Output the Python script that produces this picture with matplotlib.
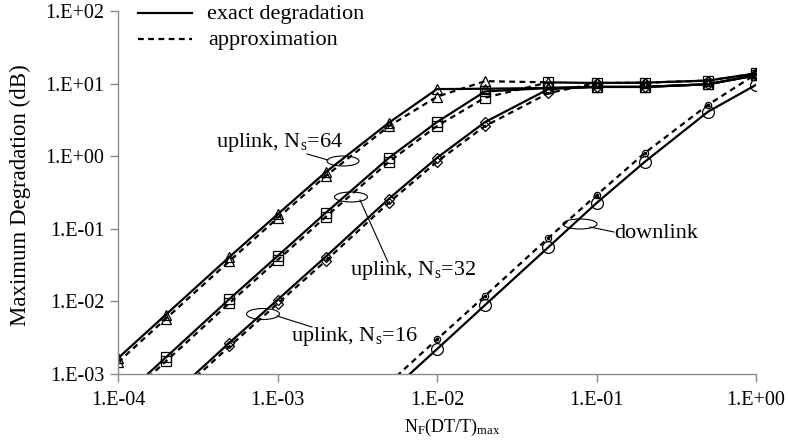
import numpy as np
import matplotlib
matplotlib.use('Agg')
import matplotlib.pyplot as plt
from matplotlib.patches import Ellipse
from matplotlib.lines import Line2D
from matplotlib.ticker import FixedLocator, FixedFormatter, NullLocator

plt.rcParams['font.family'] = ['Liberation Serif', 'DejaVu Serif']
plt.rcParams['mathtext.default'] = 'regular'

nan = np.nan
# ---- data ----
x = [1e-4, 2e-4, 5e-4, 1e-3, 2e-3, 5e-3, 1e-2, 2e-2, 5e-2, 1e-1, 2e-1, 5e-1, 1.0]

ul64_exact  = [1.65e-3, 6.6e-3, 0.041, 0.158, 0.60, 2.9, 8.4, 8.5, 8.7, 9.0, 9.0, 9.8, 13.0]
ul64_approx = [1.45e-3, 5.8e-3, 0.036, 0.140, 0.53, 2.6, 6.6, 10.8, 10.4, 10.2, 10.3, 11.0, 13.8]

ul32_exact  = [4.2e-4, 1.7e-3, 0.0108, 0.042, 0.165, 0.95, 2.95, 7.8, 8.7, 9.0, 9.0, 9.8, 13.0]
ul32_approx = [3.7e-4, 1.5e-3, 0.0095, 0.037, 0.145, 0.84, 2.6, 6.4, 10.4, 10.2, 10.3, 11.0, 13.8]

ul16_exact  = [nan, 4.3e-4, 2.7e-3, 0.0105, 0.041, 0.26, 0.95, 2.95, 8.4, 9.0, 9.0, 9.8, 13.0]
ul16_approx = [nan, 3.8e-4, 2.4e-3, 0.0093, 0.036, 0.23, 0.84, 2.6, 7.4, 10.2, 10.3, 11.0, 13.8]

dl_exact  = [nan, nan, nan, nan, nan, 5.5e-4, 2.2e-3, 8.9e-3, 0.056, 0.226, 0.83, 4.1, 9.6]
dl_approx = [nan, nan, nan, nan, nan, 7.5e-4, 3.0e-3, 0.0119, 0.075, 0.29, 1.1, 5.1, 13.5]

x_ticks = [1e-4, 1e-3, 1e-2, 1e-1, 1.0]
x_tick_labels = ['1.E-04', '1.E-03', '1.E-02', '1.E-01', '1.E+00']
y_ticks = [1e-3, 1e-2, 1e-1, 1.0, 10.0, 100.0]
y_tick_labels = ['1.E-03', '1.E-02', '1.E-01', '1.E+00', '1.E+01', '1.E+02']

legend_labels = ['exact degradation', 'approximation']
annot_labels = ['uplink, N$_s$=64', 'uplink, N$_s$=32', 'uplink, N$_s$=16', 'downlink']
x_label = 'N$_F$(DT/T)$_{max}$'
y_label = 'Maximum Degradation (dB)'

# ---- figure ----
W, H = 788, 447
fig = plt.figure(figsize=(W / 100, H / 100), dpi=100)
ax = fig.add_axes([118 / W, 1 - 374 / H, 638 / W, 363 / H])

DASH = (0, (2.6, 2.0))
LW = 1.6

series = [
    (ul64_exact, ul64_approx, '^', 7.5, 7.0),
    (ul32_exact, ul32_approx, 's', 7.0, 6.5),
    (ul16_exact, ul16_approx, 'D', 5.0, 4.6),
]
for ex, ap, m, ms_e, ms_a in series:
    ax.plot(x, ex, color='k', lw=LW, ls='-', marker=m, ms=ms_e,
            mfc='none', mec='k', mew=0.9)
    ax.plot(x, ap, color='k', lw=LW, ls=DASH, marker=m, ms=ms_a,
            mfc='none', mec='k', mew=0.9)

ax.plot(x, dl_exact, color='k', lw=LW, ls='-', marker='o', ms=8.5,
        mfc='none', mec='k', mew=0.9)
ax.plot(x, dl_approx, color='k', lw=LW, ls=DASH, marker='o', ms=4.5,
        mfc='none', mec='k', mew=0.9)
ax.plot(x, dl_approx, ls='none', marker='o', ms=1.6, color='k')

ax.set_xscale('log')
ax.set_yscale('log')
ax.set_xlim(1e-4, 1.0)
ax.set_ylim(1e-3, 1e2)

ax.xaxis.set_major_locator(FixedLocator(x_ticks))
ax.xaxis.set_major_formatter(FixedFormatter(x_tick_labels))
ax.yaxis.set_major_locator(FixedLocator(y_ticks))
ax.yaxis.set_major_formatter(FixedFormatter(y_tick_labels))
ax.xaxis.set_minor_locator(NullLocator())
ax.yaxis.set_minor_locator(NullLocator())

for s in ['top', 'right']:
    ax.spines[s].set_visible(False)
for s in ['left', 'bottom']:
    ax.spines[s].set_color('#8a8a8a')
    ax.spines[s].set_linewidth(1.0)
ax.tick_params(axis='both', which='major', direction='out', length=6,
               width=1.0, color='#8a8a8a', labelsize=14.5)
ax.tick_params(axis='x', pad=6)
ax.tick_params(axis='y', pad=4)

# axis titles
fig.text(452 / W, 1 - 427 / H, x_label, ha='center', va='center', fontsize=13)
fig.text(20 / W, 1 - 195 / H, y_label, ha='center', va='center',
         rotation=90, fontsize=16.5)

# legend (drawn manually)
fig.add_artist(Line2D([138 / W, 192 / W], [1 - 13 / H] * 2,
                      transform=fig.transFigure, color='k', lw=LW))
fig.add_artist(Line2D([138 / W, 192 / W], [1 - 39 / H] * 2,
                      transform=fig.transFigure, color='k', lw=LW, ls=DASH))
fig.text(207 / W, 1 - 14 / H, legend_labels[0], ha='left', va='center', fontsize=16)
fig.text(208 / W, 1 - 41 / H, legend_labels[1], ha='left', va='center', fontsize=16)

# annotations: text, leader line, ellipse (pixel positions, top origin)
annots = [
    (annot_labels[0], (280, 143), ((307, 154), (328, 160)), (343, 161, 32, 10)),
    (annot_labels[1], (413, 271), ((360, 200), (388, 262)), (351, 197, 33, 10)),
    (annot_labels[2], (354, 337), ((277, 316), (312, 327)), (263, 314, 33, 11)),
    (annot_labels[3], (656, 233), ((590, 227), (614, 232)), (580, 224, 34, 10)),
]
for txt, (tx, ty), ((x0, y0), (x1, y1)), (ex_, ey_, ew, eh) in annots:
    fig.text(tx / W, 1 - ty / H, txt, ha='center', va='center', fontsize=16)
    fig.add_artist(Line2D([x0 / W, x1 / W], [1 - y0 / H, 1 - y1 / H],
                          transform=fig.transFigure, color='k', lw=0.8))
    fig.add_artist(Ellipse((ex_ / W, 1 - ey_ / H), ew / W, eh / H,
                           transform=fig.transFigure, fill=False,
                           edgecolor='k', lw=0.8))

fig.savefig('out.png', dpi=100)
